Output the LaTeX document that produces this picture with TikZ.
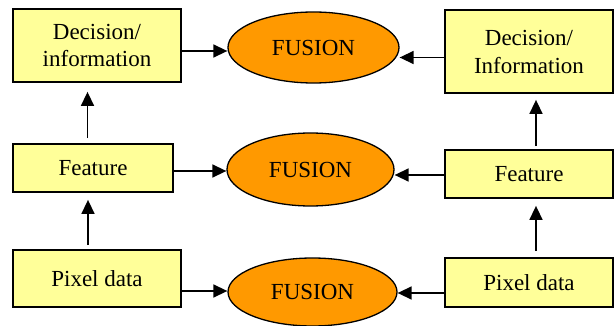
\documentclass[tikz,border=0pt]{standalone}
\usepackage{fontspec}
\setmainfont{Liberation Serif}
\usetikzlibrary{shapes.geometric,arrows.meta}
\definecolor{boxyellow}{HTML}{FFFF99}
\definecolor{fuseorange}{HTML}{FF9900}
\begin{document}
\begin{tikzpicture}[x=1pt,y=-1pt,
  box/.style={draw=black,line width=1.8pt,fill=boxyellow,inner sep=0pt,align=center,
    font=\fontsize{23}{28}\selectfont},
  fuse/.style={ellipse,draw=black,line width=1.3pt,fill=fuseorange,inner sep=0pt,
    font=\fontsize{23}{28}\selectfont},
  arr/.style={line width=1.5pt,-{Triangle[length=14pt,width=13pt]}}]
\useasboundingbox (0,0) rectangle (614,326);
% left column
\node[box,minimum width=168pt,minimum height=73pt] (dl) at (97,45.5) {Decision/\\information};
\node[box,minimum width=160pt,minimum height=48pt] (fl) at (93,168) {Feature};
\node[box,minimum width=168pt,minimum height=57pt] (pl) at (97,278.5) {Pixel data};
% right column
\node[box,minimum width=168pt,minimum height=83pt] (dr) at (529,51.5) {Decision/\\Information};
\node[box,minimum width=168pt,minimum height=48pt] (fr) at (529,174) {Feature};
\node[box,minimum width=168pt,minimum height=49pt] (pr) at (529,282.5) {Pixel data};
% fusion
\node[fuse,minimum width=171pt,minimum height=71pt] (e1) at (313.5,47.5) {FUSION};
\node[fuse,minimum width=167pt,minimum height=73pt] (e2) at (310.5,169.5) {FUSION};
\node[fuse,minimum width=169pt,minimum height=68pt] (e3) at (312.5,292) {FUSION};
% vertical arrows
\draw[arr,shorten <=5pt,shorten >=9pt] (fl.north -| 87.5,0) -- (dl.south -| 87.5,0);
\draw[arr,shorten <=4pt,shorten >=7pt] (pl.north -| 88,0) -- (fl.south -| 88,0);
\draw[arr,shorten <=3pt,shorten >=6pt] (fr.north -| 536,0) -- (dr.south -| 536,0);
\draw[arr,shorten <=6pt,shorten >=7pt] (pr.north -| 536,0) -- (fr.south -| 536,0);
% horizontal arrows
\draw[arr] (dl.east |- 0,51) -- (e1.west |- 0,51);
\draw[arr] (dr.west |- 0,57.5) -- (e1.east |- 0,57.5);
\draw[arr] (fl.east |- 0,171) -- (e2.west |- 0,171);
\draw[arr] (fr.west |- 0,175) -- (e2.east |- 0,175);
\draw[arr] (pl.east |- 0,291) -- (e3.west |- 0,291);
\draw[arr] (pr.west |- 0,293) -- (e3.east |- 0,293);
\end{tikzpicture}
\end{document}
